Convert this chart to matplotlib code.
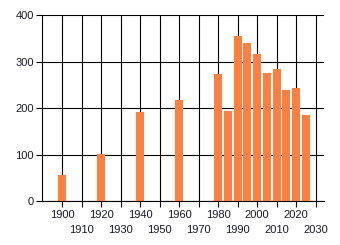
import matplotlib
matplotlib.use("Agg")
import matplotlib.pyplot as plt
from matplotlib.ticker import FixedLocator

years = [1900, 1920, 1940, 1960, 1980, 1985, 1990, 1995, 2000, 2005, 2010, 2015, 2020, 2025]
values = [56, 101, 192, 218, 273, 194, 355, 340, 316, 276, 284, 239, 243, 186]
major_labels = [1900, 1920, 1940, 1960, 1980, 2000, 2020]
minor_labels = [1910, 1930, 1950, 1970, 1990, 2010, 2030]
y_ticks = [0, 100, 200, 300, 400]

plt.rcParams['font.family'] = ['Liberation Sans', 'DejaVu Sans']
txt = '#1a1a2a'
fig = plt.figure(figsize=(3.4, 2.45), dpi=100)
ax = fig.add_axes([42/340, 1 - 201.3/245, (324-42)/340, (201.3-15.3)/245])

ax.bar(years, values, width=4, color='#ff7f40', zorder=3)
ax.set_xlim(1889.7, 2034.3)
ax.set_ylim(0, 400)

ax.xaxis.set_major_locator(FixedLocator(major_labels))
ax.xaxis.set_minor_locator(FixedLocator(minor_labels))
ax.set_xticklabels([str(v) for v in major_labels])
ax.set_xticklabels([str(v) for v in minor_labels], minor=True)
ax.set_yticks(y_ticks)

fs = 8
ax.tick_params(axis='x', which='major', length=4, width=0.8, pad=2, labelsize=fs, labelcolor=txt, color='black')
ax.tick_params(axis='x', which='minor', length=4, width=0.8, pad=13, labelsize=fs, labelcolor=txt, color='black')
ax.tick_params(axis='y', length=4, width=0.8, pad=2, labelsize=fs, labelcolor=txt, color='black')

ax.grid(True, which='both', axis='x', color='black', linewidth=0.8, zorder=1)
ax.grid(True, which='major', axis='y', color='black', linewidth=0.8, zorder=1)

for s in ['top', 'right']:
    ax.spines[s].set_visible(False)
ax.spines['left'].set_linewidth(0.8)
ax.spines['bottom'].set_linewidth(0.8)
ax.set_axisbelow(True)

fig.savefig('out.png', dpi=100)
